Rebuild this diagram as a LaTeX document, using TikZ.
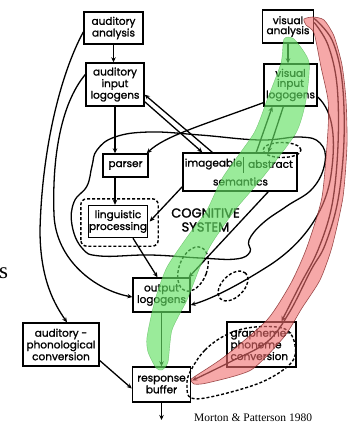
\documentclass[tikz,border=0pt]{standalone}
\usepackage{fontspec}
\usetikzlibrary{arrows.meta,calc,shapes.geometric}
\newfontfamily\labelfont[FakeBold=1.3]{Poppins}
\newfontfamily\headfont[FakeBold=1.6]{Poppins}
\newfontfamily\notefont{Liberation Serif}
\definecolor{hlgreen}{RGB}{100,225,100}
\definecolor{hlgreenline}{RGB}{70,170,70}
\definecolor{hlred}{RGB}{240,110,110}
\definecolor{hlredline}{RGB}{130,40,40}

\begin{document}
\begin{tikzpicture}[x=1pt,y=-1pt,
  proc/.style={draw, line width=1.4pt, align=center, inner sep=0pt,
    font=\labelfont\fontsize{10.5}{10}\selectfont},
  word/.style={inner sep=0pt, font=\labelfont\fontsize{10.5}{10}\selectfont},
  link/.style={line width=1.3pt},
  arr/.style={link, -{Stealth[length=5pt,width=4.5pt]}},
  dsh/.style={line width=1.4pt, dash pattern=on 3pt off 2pt},
  greenband/.style={fill=hlgreen, fill opacity=0.65, draw=hlgreenline, draw opacity=0.6, line width=0.4pt},
  redband/.style={fill=hlred, fill opacity=0.6, draw=hlredline, draw opacity=0.8, line width=0.6pt},
]
\useasboundingbox (0,0) rectangle (348,422);

% ---------- processing modules ----------
\node[proc, minimum width=59pt, minimum height=32pt] (AA) at (113.5,28) {auditory\\analysis};
\node[proc, minimum width=51pt, minimum height=33pt] (VA) at (288,26.5) {visual\\analysis};
\node[proc, minimum width=58pt, minimum height=43pt] (AIL) at (115,84.5) {auditory\\input\\logogens};
\node[proc, minimum width=53pt, minimum height=42pt] (VIL) at (290.5,85) {visual\\input\\logogens};
\node[proc, minimum width=45pt, minimum height=23pt] (parser) at (125.5,165.5) {parser};
\node[proc, minimum width=114pt, minimum height=38pt] (SEM) at (240,172) {};
\node[word] (img) at (213.5,164) {imageable};
\node[word] (abs) at (270.5,164) {abstract};
\node[word] (sem) at (240.5,181.5) {semantics};
\draw[line width=1.7pt] (243.5,157) -- (243.5,173);
\node[proc, minimum width=59pt, minimum height=32pt] (LP) at (118,221.5) {linguistic\\processing};
\node[proc, minimum width=57pt, minimum height=34pt] (OL) at (161.5,295) {output\\logogens};
\node[proc, minimum width=76pt, minimum height=43pt] (APC) at (61,344.5) {auditory -\\phonological\\conversion};
\node[proc, minimum width=69pt, minimum height=45pt, align=left, text width=62pt] (GPC) at (261.5,344.5) {grapheme-\\phoneme\\conversion};
\node[proc, minimum width=58pt, minimum height=35pt] (RB) at (161.5,384.5) {response\\buffer};

\node[inner sep=0pt, align=center, font=\headfont\fontsize{13}{14}\selectfont] (cog) at (205.5,220) {COGNITIVE\\SYSTEM};

% ---------- cognitive system boundary ----------
\draw[link] plot[smooth cycle, tension=0.7] coordinates {(97,150) (115,137) (150,132) (200,135) (260,140) (300,137) (320,143) (325,162) (313,188) (287,206) (263,223) (249,240) (250,252) (236,259) (200,258) (150,255) (100,256) (82,248) (72,225) (74,202) (87,186) (92,166)};

% ---------- connections ----------
\draw[arr] (AA.south) -- (AA.south |- AIL.north);
\draw[arr] (VA.south) -- (VA.south |- VIL.north);
\draw[arr] (AIL.south) -- (AIL.south |- parser.north);
\draw[arr] (AIL.south |- parser.south) -- (AIL.south |- LP.north);
\draw[arr] ($(AIL.south east)+(0,-5)$) -- ($(SEM.north west)+(20,0)$);
\draw[arr] ($(SEM.north west)+(30,0)$) -- ($(AIL.south east)+(0,-12)$);
\draw[arr] ($(VIL.south west)+(0,-4)$) .. controls (200,126) and (165,136) .. ($(parser.north east)+(-2,0)$);
\draw[arr] ($(SEM.north west)+(74,0)$) -- ($(VIL.south west)+(9,0)$);
\draw[arr] ($(VIL.south west)+(20,0)$) -- ($(SEM.north west)+(86,0)$);
\draw[arr] ($(SEM.south west)+(0,-5)$) -- ($(LP.east)+(1.5,0)$);
\draw[arr] ($(LP.south)+(15,0)$) -- ($(OL.north)+(-4,0)$);
\draw[arr] ($(SEM.south west)+(86,0)$) -- ($(OL.north east)+(-2,0)$);
\draw[arr] ($(VIL.east)+(0,12)$) .. controls (334,112) and (336,140) .. (331,175)
  .. controls (326,210) and (305,242) .. (270,265)
  .. controls (245,281) and (215,298) .. ($(OL.east)+(0,10)$);
\draw[arr] ($(AIL.west)+(0,-10)$) .. controls (60,105) and (52,160) .. (54,215)
  .. controls (56,260) and (95,290) .. ($(OL.west)+(0,2)$);
\draw[arr] ($(AA.west)+(0,4)$) .. controls (60,75) and (42,150) .. (40,230)
  .. controls (40,280) and (55,305) .. ($(APC.north)+(6,0)$);
\draw[arr] ($(APC.east)+(0,16)$) -- ($(RB.west)+(0,4)$);
\draw[arr] (OL.south) -- (RB.north);
\coordinate (speech) at (161.5,420);
\draw[arr] (RB.south) -- (speech);
\draw[arr] plot[smooth, tension=0.6] coordinates {($(VA.east)+(0,-4)$) (328,45) (337,85) (338,145) (332,205) (318,250) (300,285) ($(GPC.north)+(20,0)$)};
\draw[arr] plot[smooth, tension=0.6] coordinates {($(VA.east)+(0,-8)$) (332,40) (342,80) (344,140) (338,200) (325,245) (311,270) (289,313) (267,342) (230,362) ($(RB.east)+(1,-4)$)};

% ---------- damaged routes ----------
\draw[dsh, rounded corners=6pt] ($(LP.south west)+(-7,8)$) rectangle ($(LP.north east)+(10,-6)$);
\draw[dsh] (282,150) ellipse [x radius=19pt, y radius=7.5pt];
\draw[dsh, rotate around={-20:(193,269)}] (193,269) ellipse [x radius=14pt, y radius=23pt];
\draw[dsh, rotate around={45:(233,286)}] (233,286) ellipse [x radius=18pt, y radius=11pt];
\draw[dsh] plot[smooth cycle, tension=0.6] coordinates {(190,372) (205,350) (228,334) (255,327) (285,329) (295,345) (291,363) (262,382) (215,396) (191,398) (187,385)};

% ---------- highlighted routes ----------
\draw[greenband] plot[smooth cycle, tension=0.4] coordinates {(294,39) (309,62) (306,100) (296,133) (263,177) (235,210) (212,243) (200,267) (187,300) (172,330) (168,362) (162,370) (156,368) (148,352) (147,337) (155,300) (167,267) (190,233) (207,210) (223,177) (254,133) (267,100) (281,63) (284,39)};
\draw[redband] plot[smooth cycle, tension=0.4] coordinates {(304,19) (313,17) (324,20) (334,36) (342,65) (346,100) (347,145) (343,197) (332,247) (320,280) (302,308) (284,337) (251,370) (207,383) (194,384) (191,380) (194,377) (224,357) (267,320) (291,283) (307,247) (322,197) (328,130) (328,100) (321,67) (314,33) (306,25)};

% ---------- annotations ----------
\node[anchor=base west, inner sep=0pt, font=\notefont\fontsize{23}{23}\selectfont] (sfrag) at (-1,278) {s};
\node[anchor=base west, inner sep=0pt, font=\notefont\fontsize{11.5}{12}\selectfont] (cite) at (194,421) {Morton \& Patterson 1980};
\end{tikzpicture}
\end{document}
